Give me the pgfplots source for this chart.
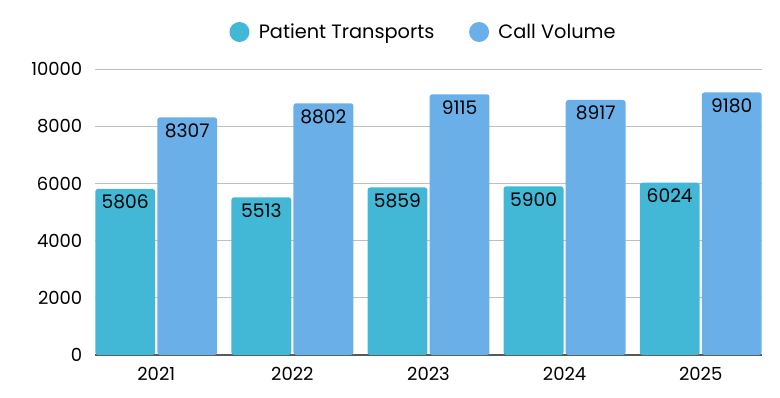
\documentclass[border=0pt]{standalone}
\usepackage{fontspec}
\setmainfont{Poppins}
\usepackage{pgfplots}
\pgfplotsset{compat=1.18}
\definecolor{cA}{HTML}{42B7D6}
\definecolor{cB}{HTML}{6BAFE8}
\begin{document}
\begin{tikzpicture}
\path[use as bounding box] (-71.25pt,-31.5pt) rectangle (513.75pt,266.25pt);
\begin{axis}[
  scale only axis, width=500.25pt, height=214.5pt,
  ybar, bar width=0.44,
  xmin=-0.45, xmax=4.45, ymin=0, ymax=10000,
  xtick=data, xticklabels={2021,2022,2023,2024,2025},
  ytick={0,2000,4000,6000,8000,10000},
  scaled y ticks=false,
  /pgf/number format/assume math mode=true,
  /pgf/number format/1000 sep={},
  axis x line*=bottom, axis y line*=left,
  y axis line style={draw=none},
  x axis line style={draw=black!65, line width=0.8pt},
  xtick style={draw=none}, ytick style={draw=none},
  ymajorgrids, grid style={draw=black!25, line width=0.7pt},
  ticklabel style={font=\fontsize{13.5pt}{15pt}\selectfont, text=black},
  yticklabel style={xshift=-6pt},
  xticklabel style={anchor=north, text height=10pt, text depth=1pt, yshift=-1pt},
  nodes near coords,
  every node near coord/.append style={anchor=north, font=\fontsize{14pt}{16pt}\selectfont, text=black, yshift=-1pt},
  legend columns=2,
  legend style={draw=none, fill=none, at={(0.493,1)}, anchor=center, yshift=27.75pt,
    font=\fontsize{14.5pt}{16pt}\selectfont,
    /tikz/every odd column/.append style={column sep=5pt},
    /tikz/every even column/.append style={column sep=24pt}},
  legend image code/.code={\fill[#1,draw=none] (0pt,0pt) circle (7.5pt);},
]
\addplot[draw=none, fill=cA, bar shift=-0.228, rounded corners=2pt] coordinates {(0,5806) (1,5513) (2,5859) (3,5900) (4,6024)};
\addplot[draw=none, fill=cB, bar shift=0.228, rounded corners=2pt] coordinates {(0,8307) (1,8802) (2,9115) (3,8917) (4,9180)};
\legend{Patient Transports, Call Volume}
\end{axis}
\end{tikzpicture}
\end{document}
